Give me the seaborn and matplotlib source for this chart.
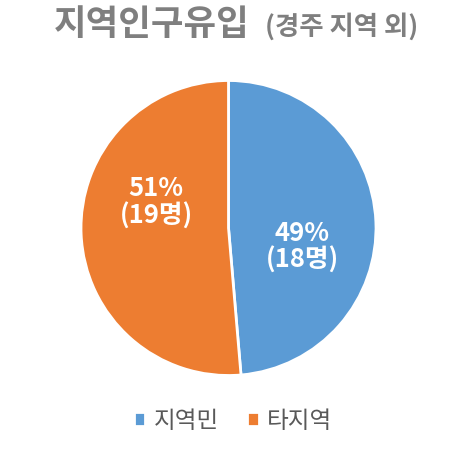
import seaborn as sns
import matplotlib.pyplot as plt
import numpy as np

categories = ["지역민", "타지역"]
counts = [18, 19]
colors = ["#5B9BD5", "#ED7D31"]

sns.set_theme(style="white")
plt.rcParams['font.family'] = ['Noto Sans CJK KR', 'DejaVu Sans']

fig = plt.figure(figsize=(4.6, 4.6), dpi=100)
fig.patch.set_facecolor("white")

# pie area: centre ~ (228.5, 229) px, radius ~147.5 px
r_px = 147.5
ax = fig.add_axes([(228.5 - r_px) / 460, (460 - 229 - r_px) / 460, 2 * r_px / 460, 2 * r_px / 460])
wedges, _ = ax.pie(counts, colors=colors, startangle=90, counterclock=False,
                   radius=1, wedgeprops=dict(edgecolor="white", linewidth=2))
ax.set_xlim(-1, 1)
ax.set_ylim(-1, 1)
ax.set_aspect("equal")
ax.axis("off")

total = sum(counts)
label_pos = [(0.50, -0.12), (-0.49, 0.18)]
for n, (lx, ly) in zip(counts, label_pos):
    pct = round(n / total * 100)
    ax.text(lx, ly, f"{pct}%\n({n}명)", ha="center", va="center", color="white",
            fontsize=18.5, fontweight="bold", linespacing=1.0)

# title
fig.text(54 / 460, 1 - 35 / 460, "지역인구유입", fontsize=25.5, fontweight="bold",
         color="#7F7F7F", ha="left", va="baseline")
fig.text(265 / 460, 1 - 35 / 460, "(경주 지역 외)", fontsize=19, fontweight="bold",
         color="#7F7F7F", ha="left", va="baseline")

fig.legend(wedges, categories, loc="center", bbox_to_anchor=(233 / 460, 1 - 422 / 460),
           ncol=2, frameon=False, fontsize=17, labelcolor="#595959",
           handlelength=0.5, handleheight=0.5, handletextpad=0.35, columnspacing=1.2)

fig.savefig("out.png", dpi=100, facecolor="white")
